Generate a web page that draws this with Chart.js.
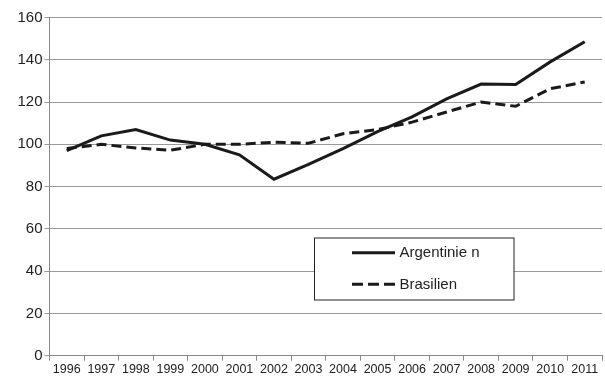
<!DOCTYPE html>
<html>
<head>
<meta charset="utf-8">
<script src="https://cdn.jsdelivr.net/npm/chart.js@4"></script>
<style>
  html, body { margin: 0; padding: 0; background: #fff; }
  #wrap { width: 605px; height: 376px; }
</style>
</head>
<body>
<div id="wrap"><canvas id="grafico" width="605" height="376"></canvas></div>
<script>
// Daten
var jahre = ['1996','1997','1998','1999','2000','2001','2002','2003','2004','2005','2006','2007','2008','2009','2010','2011'];
var argentinien = [97, 104, 107, 102, 100, 95, 83.5, 90.5, 98, 106, 113, 121.5, 128.5, 128.3, 139, 148.5];
var brasilien = [98, 100, 98.3, 97.2, 100, 100, 101, 100.5, 105, 107, 110.5, 115.3, 120, 118, 126.3, 129.5];
var yTicks = [0, 20, 40, 60, 80, 100, 120, 140, 160];

// Legende als Kasten im Diagramm
var legendeKasten = {
    id: 'legendeKasten',
    afterDraw: function (chart) {
        var ctx = chart.ctx;
        var x0 = 314.5, y0 = 238, w = 199.5, h = 62;
        ctx.save();
        ctx.fillStyle = '#fff';
        ctx.fillRect(x0, y0, w, h);
        ctx.strokeStyle = '#222';
        ctx.lineWidth = 1;
        ctx.strokeRect(x0, y0, w, h);
        var reihen = [252.7, 284.3];
        chart.data.datasets.forEach(function (ds, i) {
            ctx.beginPath();
            ctx.lineWidth = ds.borderWidth;
            ctx.strokeStyle = ds.borderColor;
            ctx.setLineDash(ds.borderDash ? [11, 5] : []);
            ctx.moveTo(352, reihen[i]);
            ctx.lineTo(395, reihen[i]);
            ctx.stroke();
            ctx.setLineDash([]);
            ctx.fillStyle = '#222';
            ctx.font = '15px "Liberation Sans", Arial, sans-serif';
            ctx.textBaseline = 'middle';
            ctx.fillText(ds.label, 399.5, reihen[i] + 0.5);
        });
        ctx.restore();
    }
};

var dados = {
    labels: jahre,
    datasets: [{
        label: 'Argentinie n',
        data: argentinien,
        borderColor: '#1a1a1a',
        borderWidth: 3,
        pointRadius: 0,
        tension: 0,
        fill: false
    }, {
        label: 'Brasilien',
        data: brasilien,
        borderColor: '#1a1a1a',
        borderWidth: 3,
        borderDash: [10, 5],
        pointRadius: 0,
        tension: 0,
        fill: false
    }]
};

var config = {
    type: 'line',
    data: dados,
    options: {
        responsive: false,
        animation: false,
        layout: { padding: { left: 0, right: 3, top: 17.5, bottom: 0 } },
        plugins: {
            legend: { display: false },
            tooltip: { enabled: false }
        },
        scales: {
            x: {
                offset: true,
                grid: {
                    offset: true,
                    drawOnChartArea: false,
                    drawTicks: true,
                    tickLength: 5,
                    color: '#888'
                },
                border: { color: '#888', width: 1 },
                ticks: {
                    color: '#222',
                    font: { family: '"Liberation Sans", Arial, sans-serif', size: 12.5 },
                    maxRotation: 0,
                    autoSkip: false,
                    padding: 1
                },
                afterFit: function (scale) { scale.height = 20.3; }
            },
            y: {
                min: 0,
                max: 160,
                afterBuildTicks: function (scale) {
                    scale.ticks = yTicks.map(function (v) { return { value: v }; });
                },
                grid: {
                    color: '#999',
                    lineWidth: 1,
                    tickLength: 5
                },
                border: { color: '#888', width: 1 },
                ticks: {
                    color: '#222',
                    font: { family: '"Liberation Sans", Arial, sans-serif', size: 15 },
                    padding: 2
                },
                afterFit: function (scale) { scale.width = 49.5; }
            }
        }
    },
    plugins: [legendeKasten]
};

var cof = document.getElementById('grafico').getContext('2d');
window.myChart = new Chart(cof, config);
</script>
</body>
</html>
